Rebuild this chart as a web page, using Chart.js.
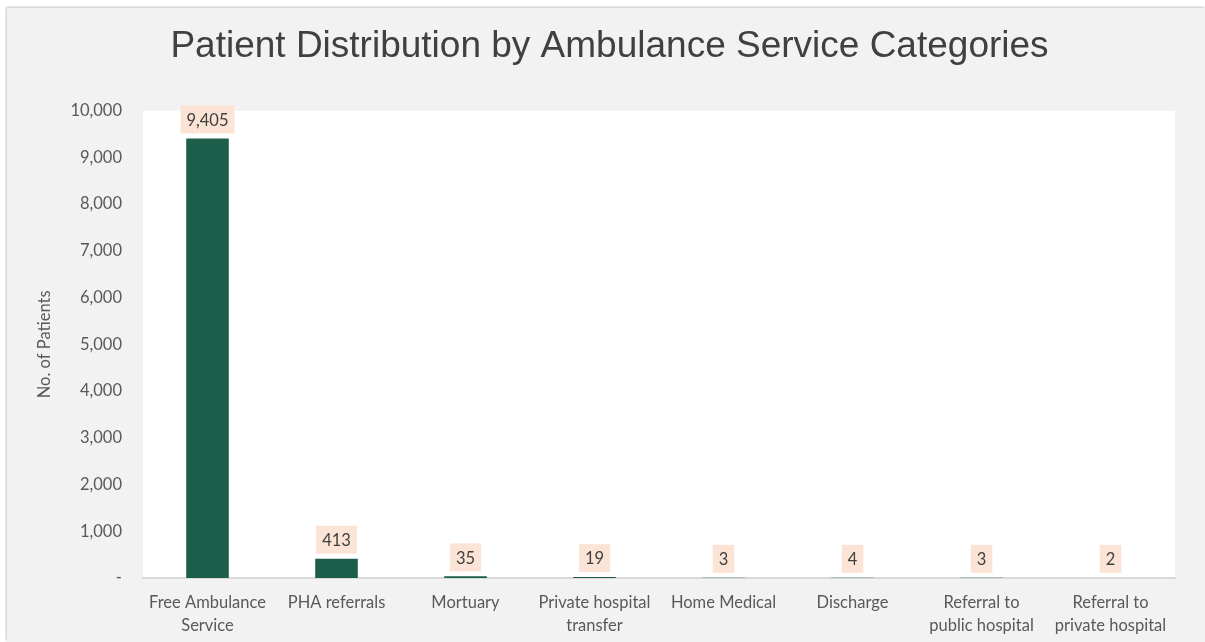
<!DOCTYPE html>
<html>
<head>
<meta charset="utf-8">
<script src="https://cdn.jsdelivr.net/npm/chart.js@4"></script>
<style>
  html, body { margin: 0; padding: 0; background: #fff; }
  #panel {
    position: absolute; left: 7px; top: 8px; width: 1198px; height: 634px;
    background: #f2f2f2; box-shadow: -1px -1px 2px #c8c8c8;
  }
  #panel canvas { display: block; }
</style>
</head>
<body>
<div id="panel"><canvas id="chart" width="1198" height="634"></canvas></div>
<script>
// Service categories (multi-line labels wrap the way the original does)
const categories = [
  ["Free Ambulance", "Service"],
  "PHA referrals",
  "Mortuary",
  ["Private hospital", "transfer"],
  "Home Medical",
  "Discharge",
  ["Referral to", "public hospital"],
  ["Referral to", "private hospital"],
];
const patients = [9405, 413, 35, 19, 3, 4, 3, 2];
const yMax = 10000;
const yStep = 1000;

const TEXT = "#595959";
const FONT = "Lato, 'Open Sans', sans-serif";
const SIZE = 16.5;

// White plot area on the grey chart panel; also centre the title on the whole
// panel rather than on the padded layout box.
const plotBg = {
  id: "plotBg",
  afterLayout(chart) {
    if (chart.titleBlock) { chart.titleBlock.left = 37; chart.titleBlock.right = 1168; }
  },
  beforeDraw(chart) {
    const { ctx, chartArea: a } = chart;
    ctx.save();
    ctx.fillStyle = "#ffffff";
    ctx.fillRect(a.left, a.top, a.right - a.left, a.bottom - a.top);
    ctx.restore();
  }
};

// Peach value boxes sitting just above each bar.
const valueBoxes = {
  id: "valueBoxes",
  afterDatasetsDraw(chart) {
    const { ctx } = chart;
    const meta = chart.getDatasetMeta(0);
    ctx.save();
    ctx.font = SIZE + "px " + FONT;
    ctx.textAlign = "center";
    ctx.textBaseline = "middle";
    meta.data.forEach((bar, i) => {
      const txt = patients[i].toLocaleString("en-US");
      const w = ctx.measureText(txt).width + 12;
      const h = 28;
      const bottom = bar.y - 5;
      ctx.fillStyle = "#fbe3d6";
      ctx.fillRect(bar.x - w / 2, bottom - h, w, h);
      ctx.fillStyle = "#404040";
      ctx.fillText(txt, bar.x, bottom - h / 2 + 1);
    });
    ctx.restore();
  }
};

new Chart(document.getElementById("chart"), {
  type: "bar",
  data: {
    labels: categories,
    datasets: [{
      data: patients,
      backgroundColor: "#1c5e4a",
      borderWidth: 0,
      categoryPercentage: 1,
      barPercentage: 0.33,
    }]
  },
  options: {
    responsive: false,
    animation: false,
    layout: { padding: { left: 0, right: 30, top: 0, bottom: 0 } },
    plugins: {
      legend: { display: false },
      tooltip: { enabled: false },
      title: {
        display: true,
        text: "Patient Distribution by Ambulance Service Categories",
        color: "#404040",
        font: { family: "'Liberation Sans', Arial, sans-serif", size: 37, weight: "normal", lineHeight: 1.1 },
        padding: { top: 18, bottom: 44 },
      },
    },
    scales: {
      x: {
        grid: { display: false, drawTicks: false },
        border: { display: true, color: "#d9d9d9", width: 2 },
        ticks: { color: TEXT, font: { family: FONT, size: SIZE, lineHeight: 1.4 }, padding: 13, maxRotation: 0, autoSkip: false },
        afterFit(s) { s.height = 64; },
      },
      y: {
        min: 0, max: yMax,
        grid: { display: false, drawTicks: false },
        border: { display: false },
        ticks: {
          stepSize: yStep,
          color: TEXT,
          font: { family: FONT, size: SIZE },
          padding: 21,
          callback: v => v === 0 ? "-" : v.toLocaleString("en-US"),
        },
        title: {
          display: true,
          text: "No. of Patients",
          color: TEXT,
          font: { family: FONT, size: SIZE },
          padding: { top: 28, bottom: 0 },
        },
        afterFit(s) { s.width = 136; },
      }
    }
  },
  plugins: [plotBg, valueBoxes]
});
</script>
</body>
</html>
